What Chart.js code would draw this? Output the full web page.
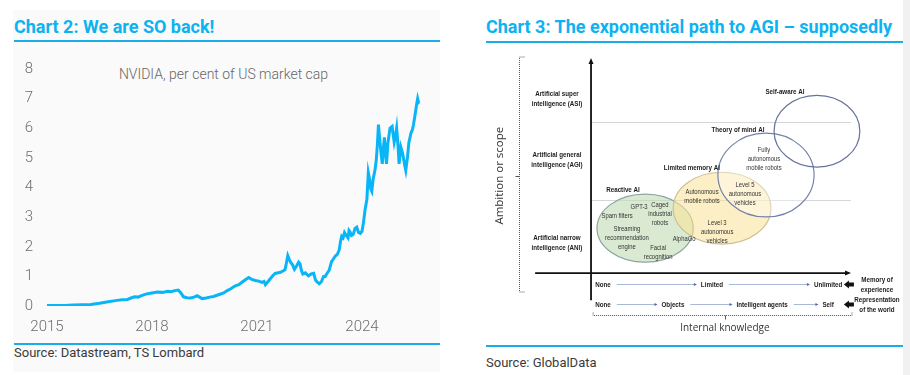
<!DOCTYPE html>
<html>
<head>
<meta charset="utf-8">
<script src="https://cdn.jsdelivr.net/npm/chart.js@4"></script>
<style>
  html, body { margin:0; padding:0; background:#ffffff; }
  body { width:910px; height:375px; position:relative; overflow:hidden; font-family:Roboto, "Liberation Sans", sans-serif; }
  .abs { position:absolute; }
  .panelL { left:13px; top:10px; width:427px; height:362px; background:#fafafa; }
  .title { font-weight:700; font-size:18px; line-height:18px; color:#0db2f0; white-space:nowrap; }
  .rule { height:2px; background:#1aace8; }
  .source { font-size:13px; line-height:13px; color:#3a3a3a; white-space:nowrap; }
  .sub { font-size:14px; line-height:14px; font-weight:300; color:#666; text-align:center; white-space:nowrap; }
  .strip { left:903px; top:0; width:7px; height:375px; background:#f1f1f1; }
</style>
</head>
<body>
<div class="abs panelL"></div>
<div class="abs strip"></div>

<div class="abs title" style="left:14px; top:18px;">Chart 2: We are SO back!</div>
<div class="abs rule" style="left:14px; top:40px; width:426px;"></div>
<div class="abs sub" style="left:83px; top:67px; width:281px;">NVIDIA, per cent of US market cap</div>
<canvas id="c1" class="abs" style="left:14px; top:46px;" width="426" height="294"></canvas>
<div class="abs rule" style="left:14px; top:343px; width:426px;"></div>
<div class="abs source" style="left:14px; top:346px;">Source: Datastream, TS Lombard</div>

<div class="abs title" style="left:486px; top:18px;">Chart 3: The exponential path to AGI – supposedly</div>
<div class="abs rule" style="left:486px; top:41px; width:417px;"></div>
<canvas id="c2" class="abs" style="left:486px; top:48px;" width="417" height="290"></canvas>
<div class="abs rule" style="left:486px; top:345px; width:417px;"></div>
<div class="abs source" style="left:486px; top:356px;">Source: GlobalData</div>

<script>
// ---------------- Chart 2 data: NVIDIA share of US market cap (%) ----------------
const nvYears = [
  2015.00,2015.25,2015.50,2015.75,2016.00,2016.25,2016.50,2016.75,2017.00,2017.15,
  2017.30,2017.40,2017.50,2017.60,2017.70,2017.85,2018.00,2018.15,2018.30,2018.45,
  2018.55,2018.65,2018.75,2018.82,2018.90,2019.00,2019.10,2019.20,2019.29,2019.36,
  2019.43,2019.55,2019.65,2019.76,2019.90,2020.05,2020.15,2020.25,2020.38,2020.48,
  2020.57,2020.66,2020.76,2020.85,2020.95,2021.05,2021.14,2021.20,2021.24,2021.31,
  2021.38,2021.45,2021.52,2021.60,2021.67,2021.74,2021.80,2021.84,2021.88,2021.93,
  2021.97,2022.02,2022.07,2022.13,2022.19,2022.23,2022.27,2022.31,2022.38,2022.47,
  2022.55,2022.62,2022.67,2022.71,2022.78,2022.84,2022.90,2022.95,2022.99,2023.06,
  2023.13,2023.18,2023.23,2023.30,2023.35,2023.39,2023.42,2023.46,2023.50,2023.55,
  2023.60,2023.63,2023.66,2023.70,2023.75,2023.80,2023.85,2023.90,2023.95,2024.00,
  2024.04,2024.09,2024.14,2024.18,2024.22,2024.25,2024.28,2024.32,2024.37,2024.41,
  2024.44,2024.47,2024.51,2024.55,2024.58,2024.61,2024.64,2024.67,2024.70,2024.74,
  2024.80,2024.86,2024.92,2024.96,2024.99,2025.03,2025.06,2025.11,2025.15,2025.18,
  2025.22,2025.25,2025.28,2025.30,2025.34,2025.40,2025.44,2025.47,2025.53,2025.56,
  2025.59,2025.62,2025.64
];
const nvShare = [
  0.02,0.02,0.02,0.03,0.04,0.05,0.09,0.14,0.19,0.21,
  0.22,0.27,0.31,0.30,0.35,0.41,0.44,0.47,0.46,0.50,
  0.48,0.52,0.54,0.45,0.31,0.28,0.27,0.30,0.35,0.30,
  0.25,0.27,0.30,0.32,0.38,0.44,0.52,0.58,0.68,0.72,
  0.80,0.88,0.96,0.90,0.86,0.84,0.80,0.83,0.72,0.82,
  0.92,1.02,1.10,1.12,1.14,1.18,1.22,1.45,1.70,1.55,
  1.46,1.38,1.24,1.35,1.48,1.42,1.20,1.08,1.12,1.02,
  1.08,1.10,0.88,0.82,0.75,0.82,1.00,1.00,1.08,1.20,
  1.50,1.58,1.67,1.75,1.90,2.20,2.35,2.30,2.48,2.38,
  2.30,2.55,2.50,2.38,2.42,2.62,2.66,2.48,2.45,2.52,
  2.80,3.27,3.60,4.50,4.25,3.95,3.87,4.30,4.58,4.95,
  5.46,6.12,5.57,5.10,4.80,5.30,5.69,5.20,4.80,5.50,
  6.00,6.06,5.53,5.75,6.00,5.40,4.80,5.36,5.20,5.03,
  4.75,4.58,4.85,5.03,5.52,5.84,5.95,6.12,6.56,6.80,
  7.00,6.85,6.83
];
const xTickYears = [2015, 2018, 2021, 2024];
const yTickValues = [0, 1, 2, 3, 4, 5, 6, 7, 8];

const tickFont = { family: 'Roboto', size: 15, weight: 300 };

new Chart(document.getElementById('c1'), {
  type: 'line',
  data: {
    datasets: [{
      data: nvYears.map((yr, i) => ({ x: yr, y: nvShare[i] })),
      borderColor: '#08b5f6',
      borderWidth: 3,
      pointRadius: 0,
      tension: 0,
      fill: false
    }]
  },
  options: {
    responsive: false,
    animation: false,
    events: [],
    devicePixelRatio: 1,
    layout: { padding: { top: 17, right: 8, bottom: 4, left: 0 } },
    plugins: { legend: { display: false }, tooltip: { enabled: false }, title: { display: false } },
    scales: {
      x: {
        type: 'linear', min: 2015, max: 2026,
        grid: { display: false, drawTicks: false },
        border: { display: false },
        afterBuildTicks: s => { s.ticks = xTickYears.map(v => ({ value: v })); },
        afterFit: s => { s.height = 30; },
        ticks: { padding: 12, color: '#6e6e6e', font: tickFont, maxRotation: 0, autoSkip: false, callback: v => String(v) }
      },
      y: {
        min: 0, max: 8,
        grid: { display: false, drawTicks: false },
        border: { display: false },
        afterBuildTicks: s => { s.ticks = yTickValues.map(v => ({ value: v })); },
        afterFit: s => { s.width = 33; },
        ticks: { padding: 14, color: '#6e6e6e', font: tickFont, callback: v => String(v) }
      }
    }
  }
});

// ---------------- Chart 3 data: AI stages diagram ----------------
// x: internal knowledge (0 = vertical axis, 100 = arrow end); y: ambition or scope (0 = horizontal axis, 100 = arrow top)
const stageNames  = ['Reactive AI', 'Limited memory AI', 'Theory of mind AI', 'Self-aware AI'];
const stageCx     = [20.8, 50.4, 67.3, 86.9];
const stageCy     = [20.9, 30.2, 45.6, 66.0];
const stageRx     = [18.5, 18.8, 18.5, 16.5];
const stageRy     = [15.8, 16.7, 19.5, 16.7];
const stageLabelX = [12.3, 38.8, 56.5, 74.6];
const stageLabelY = [38.9, 49.0, 66.8, 84.5];

const levelNames = [['Artificial narrow', 'intelligence (ANI)'], ['Artificial general', 'intelligence (AGI)'], ['Artificial super', 'intelligence (ASI)']];
const levelX = -13.1;
const levelY = [14.0, 52.6, 80.9];
const levelBounds = [34.0, 70.2];

const exampleNames = [
  ['Fully', 'autonomous', 'mobile robots'],
  ['Level 5', 'autonomous', 'vehicles'],
  ['Autonomous', 'mobile robots'],
  ['Level 3', 'autonomous', 'vehicles'],
  ['GPT-3'],
  ['Caged', 'industrial', 'robots'],
  ['Spam filters'],
  ['Streaming', 'recommendation', 'engine'],
  ['AlphaGo'],
  ['Facial', 'recognition']
];
const exampleX = [66.5, 59.2, 42.7, 48.5, 18.5, 26.5, 10.0, 13.8, 35.8, 25.8];
const exampleY = [53.0, 36.7, 35.8, 18.9, 30.6, 27.6, 26.5, 16.3, 15.7, 9.4];

const memoryStops = ['None', 'Limited', 'Unlimited'];
const memoryStopX = [4.6, 46.5, 91.2];
const memoryRowY = -5.3;
const worldStops = ['None', 'Objects', 'Intelligent agents', 'Self'];
const worldStopX = [4.6, 31.5, 65.8, 91.2];
const worldRowY = -14.6;
const rowTitles = [['Memory of', 'experience'], ['Representation', 'of the world']];
const rowTitleX = 110;
const rowMarkerX = 99.2;

const axisXStart = -21.5, axisXEnd = 100;
const axisYStart = -12.6, axisYEnd = 100;
const leftBracketX = -27.7, leftBracketTop = 100.5, leftBracketBottom = -8.8, leftBracketMid = 45.3;
const bottomBracketY = -19.5, bottomBracketFrom = 0.8, bottomBracketTo = 100.4, bottomBracketMid = 51.5;
const yAxisTitle = 'Ambition or scope', yAxisTitleX = -35, yAxisTitleY = 45.3;
const xAxisTitle = 'Internal knowledge', xAxisTitleX = 51.5, xAxisTitleY = -25.6;

const NARROW = 0.82;
const diagramPlugin = {
  id: 'diagram',
  afterDraw(chart) {
    const { ctx, scales: { x, y } } = chart;
    const px = v => x.getPixelForValue(v);
    const py = v => y.getPixelForValue(v);

    function textBlock(lines, u, v, opts) {
      const size = opts.size || 7.5, gap = opts.gap || 9;
      ctx.save();
      ctx.font = (opts.bold ? 'bold ' : '') + size + 'px "Liberation Sans", Arial, sans-serif';
      ctx.fillStyle = opts.color || '#222';
      ctx.textAlign = 'center';
      ctx.textBaseline = 'middle';
      ctx.translate(px(u), py(v));
      ctx.scale(NARROW, 1);
      const n = lines.length;
      lines.forEach((t, i) => ctx.fillText(t, 0, (i - (n - 1) / 2) * gap));
      ctx.restore();
    }
    function textWidth(t, bold, size) {
      ctx.save();
      ctx.font = (bold ? 'bold ' : '') + size + 'px "Liberation Sans", Arial, sans-serif';
      const w = ctx.measureText(t).width * NARROW;
      ctx.restore();
      return w;
    }
    function arrowHead(xTip, yTip, dir, len, half, color) {
      ctx.save();
      ctx.fillStyle = color;
      ctx.beginPath();
      if (dir === 'up') { ctx.moveTo(xTip, yTip); ctx.lineTo(xTip - half, yTip + len); ctx.lineTo(xTip + half, yTip + len); }
      else if (dir === 'right') { ctx.moveTo(xTip, yTip); ctx.lineTo(xTip - len, yTip - half); ctx.lineTo(xTip - len, yTip + half); }
      ctx.closePath();
      ctx.fill();
      ctx.restore();
    }

    // level boundary lines
    ctx.save();
    ctx.strokeStyle = '#d3d7dc';
    ctx.lineWidth = 1;
    levelBounds.forEach(b => {
      ctx.beginPath();
      ctx.moveTo(px(0), Math.round(py(b)) + 0.5);
      ctx.lineTo(px(100), Math.round(py(b)) + 0.5);
      ctx.stroke();
    });
    ctx.restore();

    // ellipses
    const fills = ['rgba(196,221,182,0.62)', 'rgba(252,226,150,0.55)', 'rgba(255,255,255,0.35)', 'rgba(255,255,255,0)'];
    const strokes = ['#8aa59d', '#cdbf94', '#7482a8', '#66739c'];
    stageNames.forEach((nm, i) => {
      ctx.save();
      ctx.beginPath();
      ctx.ellipse(px(stageCx[i]), py(stageCy[i]),
        Math.abs(px(stageCx[i] + stageRx[i]) - px(stageCx[i])),
        Math.abs(py(stageCy[i] + stageRy[i]) - py(stageCy[i])), 0, 0, Math.PI * 2);
      ctx.fillStyle = fills[i];
      ctx.fill();
      ctx.strokeStyle = strokes[i];
      ctx.lineWidth = 1.2;
      ctx.stroke();
      ctx.restore();
    });

    // stage labels
    stageNames.forEach((nm, i) => textBlock([nm], stageLabelX[i], stageLabelY[i], { bold: true, size: 7.6, color: '#1c1c1c' }));
    // examples
    exampleNames.forEach((lines, i) => textBlock(lines, exampleX[i], exampleY[i], { size: 7.2, gap: 9, color: '#333' }));
    // level labels
    levelNames.forEach((lines, i) => textBlock(lines, levelX, levelY[i], { bold: true, size: 7.6, gap: 10, color: '#1c1c1c' }));

    // axes
    ctx.save();
    ctx.strokeStyle = '#111';
    ctx.lineWidth = 1.8;
    ctx.beginPath();
    ctx.moveTo(px(0), py(axisYStart));
    ctx.lineTo(px(0), py(axisYEnd) + 4);
    ctx.moveTo(px(axisXStart), py(0));
    ctx.lineTo(px(axisXEnd) - 4, py(0));
    ctx.stroke();
    ctx.restore();
    arrowHead(px(0), py(axisYEnd), 'up', 6, 2.5, '#111');
    arrowHead(px(axisXEnd), py(0), 'right', 6, 2.5, '#111');

    // stop rows
    function stopRow(names, xs, v) {
      names.forEach((t, i) => textBlock([t], xs[i], v, { bold: true, size: 7.6, color: '#1c1c1c' }));
      for (let i = 0; i < names.length - 1; i++) {
        const a = px(xs[i]) + textWidth(names[i], true, 7.6) / 2 + 6;
        const b = px(xs[i + 1]) - textWidth(names[i + 1], true, 7.6) / 2 - 4;
        const yy = Math.round(py(v)) + 0.5;
        ctx.save();
        ctx.strokeStyle = '#a9b8d6';
        ctx.lineWidth = 1;
        ctx.beginPath();
        ctx.moveTo(a, yy);
        ctx.lineTo(b - 2, yy);
        ctx.stroke();
        ctx.restore();
        arrowHead(b, yy, 'right', 3, 1.6, '#4b66b0');
      }
    }
    stopRow(memoryStops, memoryStopX, memoryRowY);
    stopRow(worldStops, worldStopX, worldRowY);

    // black row markers (left-pointing block arrows)
    [memoryRowY, worldRowY].forEach(v => {
      const cx = px(rowMarkerX), cy = py(v);
      ctx.save();
      ctx.fillStyle = '#111';
      ctx.beginPath();
      ctx.moveTo(cx - 5, cy);
      ctx.lineTo(cx, cy - 4);
      ctx.lineTo(cx, cy - 2);
      ctx.lineTo(cx + 5, cy - 2);
      ctx.lineTo(cx + 5, cy + 2);
      ctx.lineTo(cx, cy + 2);
      ctx.lineTo(cx, cy + 4);
      ctx.closePath();
      ctx.fill();
      ctx.restore();
    });
    textBlock(rowTitles[0], rowTitleX, memoryRowY, { bold: true, size: 7.6, gap: 10, color: '#1c1c1c' });
    textBlock(rowTitles[1], rowTitleX, worldRowY, { bold: true, size: 7.6, gap: 10, color: '#1c1c1c' });

    // dotted brackets
    ctx.save();
    ctx.strokeStyle = '#555';
    ctx.lineWidth = 1;
    ctx.setLineDash([1, 1]);
    const bx = Math.round(px(leftBracketX)) + 0.5;
    ctx.beginPath();
    ctx.moveTo(bx + 5, py(leftBracketTop));
    ctx.lineTo(bx, py(leftBracketTop));
    ctx.lineTo(bx, py(leftBracketBottom));
    ctx.lineTo(bx + 5, py(leftBracketBottom));
    ctx.stroke();
    const byy = Math.round(py(bottomBracketY)) + 0.5;
    ctx.beginPath();
    ctx.moveTo(px(bottomBracketFrom), byy - 3);
    ctx.lineTo(px(bottomBracketFrom), byy);
    ctx.lineTo(px(bottomBracketTo), byy);
    ctx.lineTo(px(bottomBracketTo), byy - 3);
    ctx.stroke();
    ctx.setLineDash([]);
    ctx.beginPath();
    ctx.moveTo(bx - 4, Math.round(py(leftBracketMid)) + 0.5);
    ctx.lineTo(bx, Math.round(py(leftBracketMid)) + 0.5);
    ctx.moveTo(Math.round(px(bottomBracketMid)) + 0.5, byy);
    ctx.lineTo(Math.round(px(bottomBracketMid)) + 0.5, byy + 4);
    ctx.stroke();
    ctx.restore();

    // axis titles
    ctx.save();
    ctx.fillStyle = '#333';
    ctx.textAlign = 'center';
    ctx.textBaseline = 'middle';
    ctx.font = '11.5px "Open Sans", sans-serif';
    ctx.translate(px(yAxisTitleX), py(yAxisTitleY));
    ctx.rotate(-Math.PI / 2);
    ctx.fillText(yAxisTitle, 0, 0);
    ctx.restore();
    ctx.save();
    ctx.fillStyle = '#333';
    ctx.textAlign = 'center';
    ctx.textBaseline = 'middle';
    ctx.font = '10px "Open Sans", sans-serif';
    ctx.fillText(xAxisTitle, px(xAxisTitleX), py(xAxisTitleY));
    ctx.restore();
  }
};

new Chart(document.getElementById('c2'), {
  type: 'scatter',
  data: { datasets: [{ data: stageCx.map((cx, i) => ({ x: cx, y: stageCy[i] })), pointRadius: 0 }] },
  options: {
    responsive: false,
    animation: false,
    events: [],
    devicePixelRatio: 1,
    layout: { padding: 0 },
    plugins: { legend: { display: false }, tooltip: { enabled: false } },
    scales: {
      x: { type: 'linear', min: -40.4, max: 120.0, display: false },
      y: { type: 'linear', min: -30.2, max: 104.7, display: false }
    }
  },
  plugins: [diagramPlugin]
});
</script>
</body>
</html>
